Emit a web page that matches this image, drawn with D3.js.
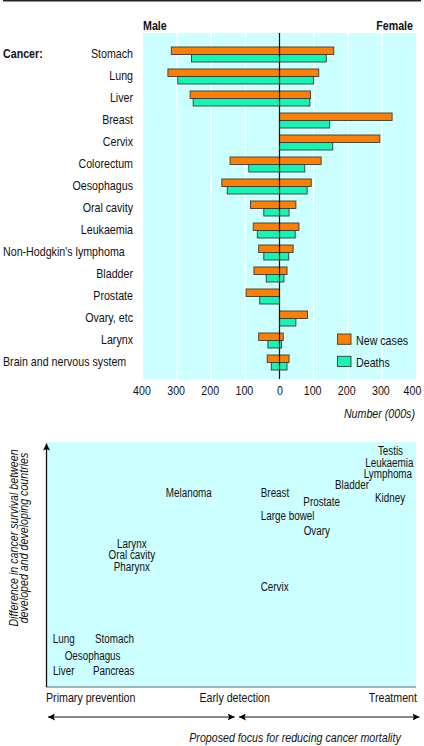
<!DOCTYPE html>
<html><head><meta charset="utf-8">
<script src="https://cdn.jsdelivr.net/npm/d3@7"></script>
<style>body{margin:0;background:#fff}svg{display:block}</style>
</head><body>
<script>
// ---------- DATA ----------
const cancers = ["Stomach","Lung","Liver","Breast","Cervix","Colorectum","Oesophagus","Oral cavity","Leukaemia","Non-Hodgkin's lymphoma","Bladder","Prostate","Ovary, etc","Larynx","Brain and nervous system"];
const maleNew    = [317,327,262,0,0,145,169,85,77,61,75,98,0,61,36];
const maleDeaths = [258,298,253,0,0,90,153,46,65,46,39,58,0,34,24];
const femaleNew    = [159,115,91,330,294,122,93,48,57,40,22,0,82,11,28];
const femaleDeaths = [137,100,89,147,156,74,81,28,46,27,13,0,48,6,22];
const tickValues = [-400,-300,-200,-100,0,100,200,300,400];
const tickLabels = ["400","300","200","100","0","100","200","300","400"];
const seriesNames = ["New cases","Deaths"];

// Lower chart: position on focus axis (0 = primary prevention, 100 = treatment)
// and survival difference (0 = low, 100 = high)
const sites  = ["Testis","Leukaemia","Lymphoma","Bladder","Kidney","Melanoma","Breast","Prostate","Large bowel","Ovary","Larynx","Oral cavity","Pharynx","Cervix","Lung","Stomach","Oesophagus","Liver","Pancreas"];
const focus  = [93.1,92.8,92.4,82.7,93.0,38.6,61.9,74.5,65.3,73.2,23.2,23.2,23.2,61.8,4.8,18.5,12.6,4.8,18.3];
const survDiff = [96.3,91.6,86.9,82.4,77.4,79.3,79.3,75.5,69.8,63.7,58.5,53.8,49.1,40.9,19.9,19.9,12.8,6.7,6.7];
const focusLabels = ["Primary prevention","Early detection","Treatment"];
const focusLabelPos = [0,51,100];

// ---------- SETUP ----------
const W = 424, H = 746;
const ORANGE = "#ff8000", GREEN = "#14f5b4", BG = "#ccffff", STROKE = "#3a3a3a";

function narrowAvailable(){
  const c = document.createElement("canvas").getContext("2d");
  c.font = "20px monospace"; const a = c.measureText("Oesophagus abcdefg").width;
  c.font = "20px 'Liberation Sans Narrow', monospace"; const b = c.measureText("Oesophagus abcdefg").width;
  return Math.abs(a-b) > 0.5;
}
const hasNarrow = narrowAvailable();
const FONT = hasNarrow ? "'Liberation Sans Narrow','Arial Narrow',sans-serif" : "'Liberation Sans',Arial,sans-serif";
const fs = s => s;

const svg = d3.select("body").append("svg").attr("width",W).attr("height",H)
  .style("font-family",FONT);

svg.append("line").attr("x1",3).attr("x2",421).attr("y1",0.75).attr("y2",0.75)
  .attr("stroke","#222").attr("stroke-width",1.5);

// ---------- TOP CHART ----------
const x = d3.scaleLinear().domain([-400,400]).range([143,416]);
const y = d3.scaleBand().domain(cancers).range([42,372]).padding(0);
const plotTop = 33, plotBot = 379;

svg.append("rect").attr("x",x(-400)).attr("y",plotTop).attr("width",x(400)-x(-400))
  .attr("height",plotBot-plotTop).attr("fill",BG);

svg.append("g").selectAll("line").data(tickValues.filter(v=>v!==0 && Math.abs(v)!==400)).join("line")
  .attr("x1",d=>x(d)).attr("x2",d=>x(d)).attr("y1",plotTop).attr("y2",plotBot)
  .attr("stroke","#fff").attr("stroke-width",1.5);

const rows = cancers.map((c,i)=>({c,mn:maleNew[i],md:maleDeaths[i],fn:femaleNew[i],fd:femaleDeaths[i]}));
const bh = 7.5;
const bars = svg.append("g").attr("stroke",STROKE).attr("stroke-width",0.9);
function drawBars(key, side, color, offset){
  bars.selectAll(null).data(rows.filter(r=>r[key]>0)).join("rect")
    .attr("x",d=> side<0 ? x(-d[key]) : x(0))
    .attr("width",d=> Math.abs(x(side*d[key])-x(0)))
    .attr("y",d=> y(d.c)+y.bandwidth()/2+offset)
    .attr("height",bh).attr("fill",color);
}
drawBars("mn",-1,ORANGE,-6);
drawBars("md",-1,GREEN,1.5);
drawBars("fn",1,ORANGE,-6);
drawBars("fd",1,GREEN,1.5);

svg.append("line").attr("x1",x(0)).attr("x2",x(0)).attr("y1",plotTop).attr("y2",plotBot)
  .attr("stroke","#111").attr("stroke-width",1.2);

const axis = d3.axisBottom(x).tickValues(tickValues).tickSize(0).tickPadding(0)
  .tickFormat((d,i)=>tickLabels[i]);
const ax = svg.append("g").attr("transform",`translate(0,386)`).call(axis);
ax.select(".domain").remove();
ax.selectAll("text").attr("font-size",fs(13)).attr("font-family",FONT).attr("fill","#111")
  .attr("dy","0.71em").attr("dx",d=> d===400 ? -4 : d===0 ? 0 : -1.5);

svg.append("text").attr("x",415).attr("y",418).attr("text-anchor","end")
  .attr("font-size",fs(13)).attr("font-style","italic").attr("fill","#111").text("Number (000s)");

svg.append("g").selectAll("text").data(cancers).join("text")
  .attr("x",d=> d.length>20 ? 3 : 133)
  .attr("text-anchor",d=> d.length>20 ? "start" : "end")
  .attr("y",d=> y(d)+y.bandwidth()/2+4.5)
  .attr("font-size",fs(13)).attr("fill","#111").text(d=>d);

svg.append("text").attr("x",3).attr("y",y(cancers[0])+y.bandwidth()/2+4.5)
  .attr("font-size",fs(13)).attr("font-weight","bold").attr("fill","#111").text("Cancer:");
svg.append("text").attr("x",143).attr("y",29.5).attr("font-size",fs(13)).attr("font-weight","bold")
  .attr("fill","#111").text("Male");
svg.append("text").attr("x",413).attr("y",29.5).attr("text-anchor","end").attr("font-size",fs(13))
  .attr("font-weight","bold").attr("fill","#111").text("Female");

const leg = svg.append("g");
[ORANGE,GREEN].forEach((col,i)=>{
  leg.append("rect").attr("x",337.5).attr("y",334+i*22.3).attr("width",13.5).attr("height",10.3)
    .attr("fill",col).attr("stroke",STROKE).attr("stroke-width",0.9);
  leg.append("text").attr("x",356).attr("y",344.5+i*22.3).attr("font-size",fs(13))
    .attr("fill","#111").text(seriesNames[i]);
});

// ---------- BOTTOM CHART ----------
const fx = d3.scaleLinear().domain([0,100]).range([46,416]);
const sy = d3.scaleLinear().domain([0,100]).range([687,442]);

svg.append("rect").attr("x",fx(0)).attr("y",sy(100)).attr("width",fx(100)-fx(0))
  .attr("height",sy(0)-sy(100)).attr("fill",BG);
svg.append("line").attr("x1",fx(0)).attr("x2",fx(100)).attr("y1",sy(0)).attr("y2",sy(0))
  .attr("stroke","#666").attr("stroke-width",1);

const defs = svg.append("defs");
defs.append("marker").attr("id","ah").attr("viewBox","0 0 10 10").attr("refX",10).attr("refY",5)
  .attr("markerWidth",7).attr("markerHeight",7).attr("markerUnits","userSpaceOnUse")
  .attr("orient","auto-start-reverse")
  .append("path").attr("d","M0,0 L10,5 L0,10 L2,5 Z").attr("fill","#000");

svg.append("line").attr("x1",fx(0)+0.5).attr("x2",fx(0)+0.5).attr("y1",sy(0)).attr("y2",sy(100)+1.5)
  .attr("stroke","#111").attr("stroke-width",1.3).attr("marker-end","url(#ah)");

svg.append("g").selectAll("text").data(sites).join("text")
  .attr("x",(d,i)=>fx(focus[i])).attr("y",(d,i)=>sy(survDiff[i])+4.3)
  .attr("text-anchor","middle").attr("font-size",fs(12)).attr("fill","#111").text(d=>d);

svg.append("g").selectAll("text").data(focusLabels).join("text")
  .attr("x",(d,i)=> i===0 ? fx(0) : i===2 ? fx(100)+1 : fx(focusLabelPos[i]))
  .attr("text-anchor",(d,i)=> i===0 ? "start" : i===2 ? "end" : "middle")
  .attr("y",702).attr("font-size",fs(13)).attr("fill","#111").text(d=>d);

[[fx(0)+2, fx(51)],[fx(52)+0.5, fx(100)+3.5]].forEach(([a,b])=>{
  svg.append("line").attr("x1",a).attr("x2",b).attr("y1",717).attr("y2",717)
    .attr("stroke","#111").attr("stroke-width",1.2)
    .attr("marker-start","url(#ah)").attr("marker-end","url(#ah)");
});

svg.append("text").attr("x",295).attr("y",741.5).attr("text-anchor","middle")
  .attr("font-size",fs(13)).attr("font-style","italic").attr("fill","#111")
  .text("Proposed focus for reducing cancer mortality");

const yt = svg.append("text").attr("transform","translate(13,538) rotate(-90)")
  .attr("text-anchor","middle").attr("font-size",fs(13)).attr("font-style","italic").attr("fill","#111");
yt.append("tspan").attr("x",0).attr("y",4.5).text("Difference in cancer survival between");
yt.append("tspan").attr("x",0).attr("y",14.5).text("developed and developing countries");

// condense text horizontally when no narrow face is installed
if(!hasNarrow){
  const squeeze = function(){
    const L = this.getComputedTextLength();
    d3.select(this).attr("textLength",L*0.82).attr("lengthAdjust","spacingAndGlyphs");
  };
  svg.selectAll("text").each(function(){
    const sp = d3.select(this).selectAll("tspan");
    if(sp.empty()) squeeze.call(this); else sp.each(squeeze);
  });
}
</script>
</body></html>
